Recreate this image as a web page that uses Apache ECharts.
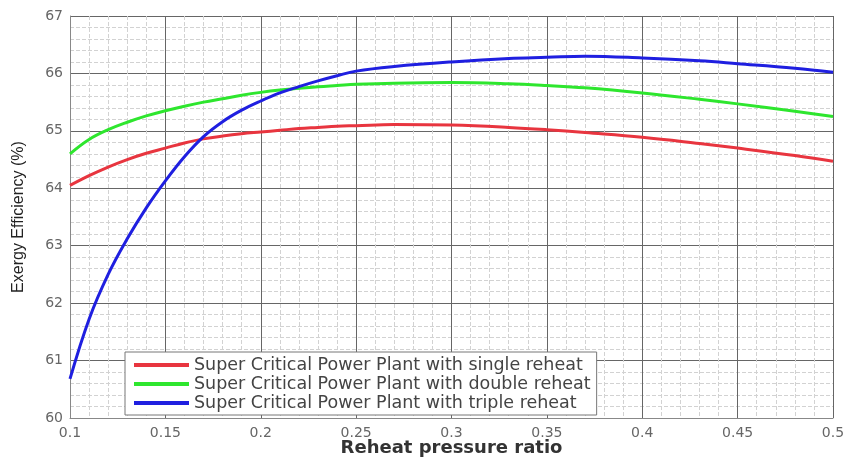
<!DOCTYPE html>
<html>
<head>
<meta charset="utf-8">
<script src="https://cdn.jsdelivr.net/npm/echarts@6/dist/echarts.min.js"></script>
<style>
  html, body { margin: 0; padding: 0; background: #fff; }
  #chart { width: 851px; height: 459px; }
</style>
</head>
<body>
<div id="chart"></div>
<script>
// reheat pressure ratio
var ratios = [0.10, 0.11, 0.12, 0.13, 0.14, 0.15, 0.16, 0.17, 0.18, 0.19, 0.20, 0.21, 0.22,
              0.23, 0.24, 0.25, 0.27, 0.30, 0.33, 0.35, 0.37, 0.40, 0.43, 0.45, 0.48, 0.50];

var singleReheat = [64.05, 64.22, 64.37, 64.50, 64.61, 64.70, 64.79, 64.86, 64.91, 64.95, 64.98, 65.01, 65.04,
                    65.06, 65.08, 65.09, 65.11, 65.10, 65.06, 65.02, 64.97, 64.89, 64.78, 64.70, 64.57, 64.47];
var doubleReheat = [64.60, 64.85, 65.02, 65.15, 65.26, 65.35, 65.43, 65.50, 65.56, 65.62, 65.67, 65.71, 65.74,
                    65.77, 65.79, 65.81, 65.83, 65.84, 65.82, 65.79, 65.75, 65.66, 65.55, 65.47, 65.34, 65.25];
var tripleReheat = [60.68, 61.72, 62.50, 63.12, 63.66, 64.13, 64.55, 64.90, 65.16, 65.36, 65.52, 65.66, 65.77,
                    65.87, 65.96, 66.04, 66.12, 66.20, 66.26, 66.28, 66.30, 66.27, 66.22, 66.17, 66.09, 66.02];

var names = [
    'Super Critical Power Plant with single reheat',
    'Super Critical Power Plant with double reheat',
    'Super Critical Power Plant with triple reheat'
];
var colors = ['#e8353f', '#2ee62e', '#1f1fe0'];

function pairs(ys) {
    return ratios.map(function (x, i) { return [x, ys[i]]; });
}

var font = 'DejaVu Sans, Verdana, sans-serif';

var option = {
    animation: false,
    grid: { left: 70, right: 18, top: 16, bottom: 41, outerBoundsMode: 'none' },
    legend: {
        orient: 'vertical',
        left: 125,
        top: 352,
        padding: [4, 6, 3, 9],
        itemGap: 1,
        itemWidth: 55,
        itemHeight: 4,
        icon: 'rect',
        backgroundColor: '#fff',
        borderColor: '#777',
        borderWidth: 1,
        textStyle: { fontFamily: font, fontSize: 17.5, color: '#444' },
        data: names
    },
    xAxis: {
        type: 'value',
        min: 0.1,
        max: 0.5,
        interval: 0.05,
        name: 'Reheat pressure ratio',
        nameLocation: 'middle',
        nameGap: 21,
        nameMoveOverlap: false,
        nameTextStyle: { fontFamily: font, fontSize: 18, fontWeight: 'bold', color: '#333' },
        axisLine: { show: true, lineStyle: { color: '#888' } },
        axisTick: { show: false },
        axisLabel: {
            fontFamily: font, fontSize: 14, color: '#666', margin: 8,
            formatter: function (v) { return String(+v.toFixed(2)); }
        },
        splitLine: { show: true, lineStyle: { color: '#666', width: 1 } },
        minorTick: { show: true, splitNumber: 5, length: 0 },
        minorSplitLine: { show: true, lineStyle: { color: '#d2d2d2', width: 1, type: 'dashed' } }
    },
    yAxis: {
        type: 'value',
        min: 60,
        max: 67,
        interval: 1,
        name: 'Exergy Efficiency (%)',
        nameLocation: 'middle',
        nameGap: 43,
        nameMoveOverlap: false,
        nameTextStyle: { fontFamily: 'Liberation Sans, Arial, sans-serif', fontSize: 16, color: '#222' },
        axisLine: { show: true, lineStyle: { color: '#888' } },
        axisTick: { show: false },
        axisLabel: { fontFamily: font, fontSize: 14, color: '#666', margin: 7 },
        splitLine: { show: true, lineStyle: { color: '#666', width: 1 } },
        minorTick: { show: true, splitNumber: 5, length: 0 },
        minorSplitLine: { show: true, lineStyle: { color: '#d2d2d2', width: 1, type: 'dashed' } }
    },
    series: [singleReheat, doubleReheat, tripleReheat].map(function (ys, i) {
        return {
            name: names[i],
            type: 'line',
            smooth: 0.4,
            symbol: 'none',
            lineStyle: { color: colors[i], width: 3 },
            itemStyle: { color: colors[i] },
            data: pairs(ys)
        };
    })
};

echarts.init(document.getElementById('chart')).setOption(option);
</script>
</body>
</html>
